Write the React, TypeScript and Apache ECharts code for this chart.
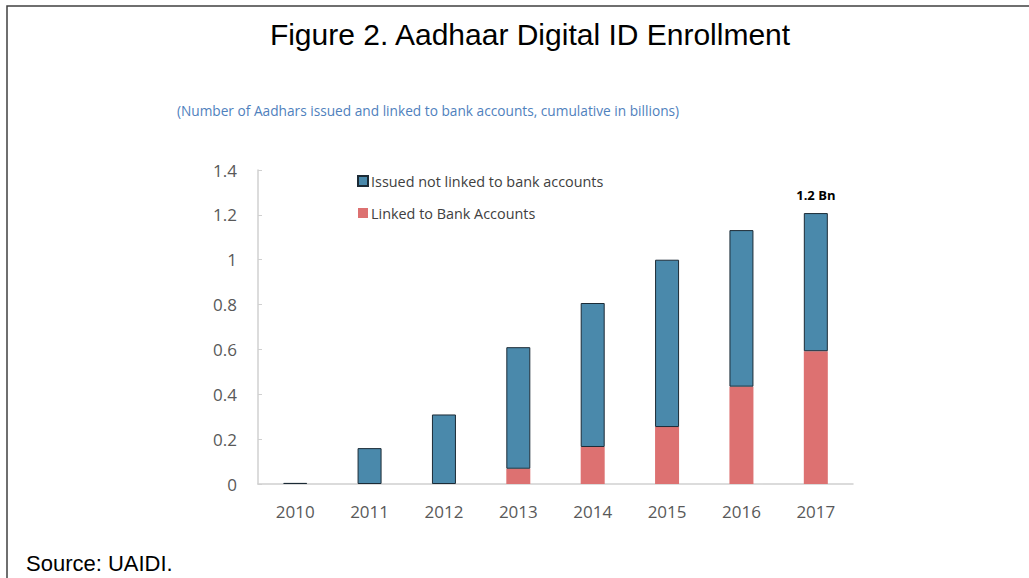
import React, { useEffect, useRef } from "react";
import * as echarts from "echarts";

const years = ["2010", "2011", "2012", "2013", "2014", "2015", "2016", "2017"];
const linkedToBank = [0, 0, 0, 0.068, 0.165, 0.254, 0.434, 0.592];
const issuedNotLinked = [0.005, 0.16, 0.31, 0.542, 0.642, 0.746, 0.698, 0.616];
const yTicks = [0, 0.2, 0.4, 0.6, 0.8, 1, 1.2, 1.4];
const totalLabel = "1.2 Bn";

export default function App() {
  const ref = useRef<HTMLDivElement>(null);
  useEffect(() => {
    document.body.style.margin = "0";
    const chart = echarts.init(ref.current!, null, { renderer: "svg" });
    const uiFont = "'Open Sans', 'Noto Sans', sans-serif";
    chart.setOption({
      animation: false,
      backgroundColor: "#ffffff",
      title: {
        text: "Figure 2. Aadhaar Digital ID Enrollment",
        left: 525,
        textAlign: "center",
        top: 14,
        textStyle: {
          fontFamily: "'Liberation Sans', Arial, sans-serif",
          fontSize: 30,
          fontWeight: "normal",
          color: "#000000",
        },
      },
      graphic: [
        {
          type: "rect",
          shape: { x: 7, y: 6, width: 1100, height: 700 },
          style: { fill: "none", stroke: "#404040", lineWidth: 1.5 },
          silent: true,
        },
        {
          type: "text",
          x: 428,
          y: 110,
          style: {
            text: "(Number of Aadhars issued and linked to bank accounts, cumulative in billions)",
            fontFamily: uiFont,
            fontSize: 13.7,
            fill: "#4f81bd",
            align: "center",
            verticalAlign: "middle",
          },
        },
        {
          type: "text",
          x: 26,
          y: 563,
          style: {
            text: "Source: UAIDI.",
            fontFamily: "'Liberation Sans', Arial, sans-serif",
            fontSize: 22,
            fill: "#000000",
            align: "left",
            verticalAlign: "middle",
          },
        },
      ],
      legend: {
        orient: "vertical",
        left: 352,
        top: 168,
        itemWidth: 10,
        itemHeight: 10,
        itemGap: 16,
        icon: "rect",
        data: ["Issued not linked to bank accounts", "Linked to Bank Accounts"],
        textStyle: {
          fontFamily: uiFont,
          fontSize: 14.4,
          color: "#404040",
          lineHeight: 16,
          padding: [0, 0, 0, -2],
        },
      },
      grid: { left: 258, top: 170, width: 595, height: 314 },
      xAxis: {
        type: "category",
        data: years,
        boundaryGap: true,
        axisLine: { lineStyle: { color: "#d0d0d0", width: 1.5 } },
        axisTick: { inside: true, length: 6, lineStyle: { color: "#d0d0d0" } },
        axisLabel: { fontFamily: uiFont, fontSize: 17, color: "#595959", margin: 19 },
      },
      yAxis: {
        type: "value",
        min: 0,
        max: 1.4,
        interval: 0.2,
        axisLine: { show: true, lineStyle: { color: "#d0d0d0", width: 1.5 } },
        axisTick: { show: true, inside: true, length: 4, lineStyle: { color: "#d0d0d0" } },
        splitLine: { show: false },
        axisLabel: {
          fontFamily: uiFont,
          fontSize: 17,
          color: "#595959",
          margin: 21,
          formatter: (v: number) => {
            const t = yTicks.find((x) => Math.abs(x - v) < 1e-6);
            return t === undefined ? "" : String(t);
          },
        },
      },
      series: [
        {
          name: "Linked to Bank Accounts",
          type: "bar",
          stack: "total",
          barWidth: 24,
          data: linkedToBank,
          itemStyle: { color: "#dd7171" },
        },
        {
          name: "Issued not linked to bank accounts",
          type: "bar",
          stack: "total",
          barWidth: 24,
          data: issuedNotLinked.map((v, i) =>
            i === issuedNotLinked.length - 1
              ? {
                  value: v,
                  label: {
                    show: true,
                    position: "top",
                    distance: 12,
                    formatter: totalLabel,
                    fontFamily: uiFont,
                    fontWeight: "bold",
                    fontSize: 13,
                    color: "#000000",
                  },
                }
              : v
          ),
          itemStyle: { color: "#4a89ab", borderColor: "#1c2b36", borderWidth: 1 },
        },
      ],
    });
    return () => chart.dispose();
  }, []);
  return <div ref={ref} style={{ width: 1029, height: 578 }} />;
}
